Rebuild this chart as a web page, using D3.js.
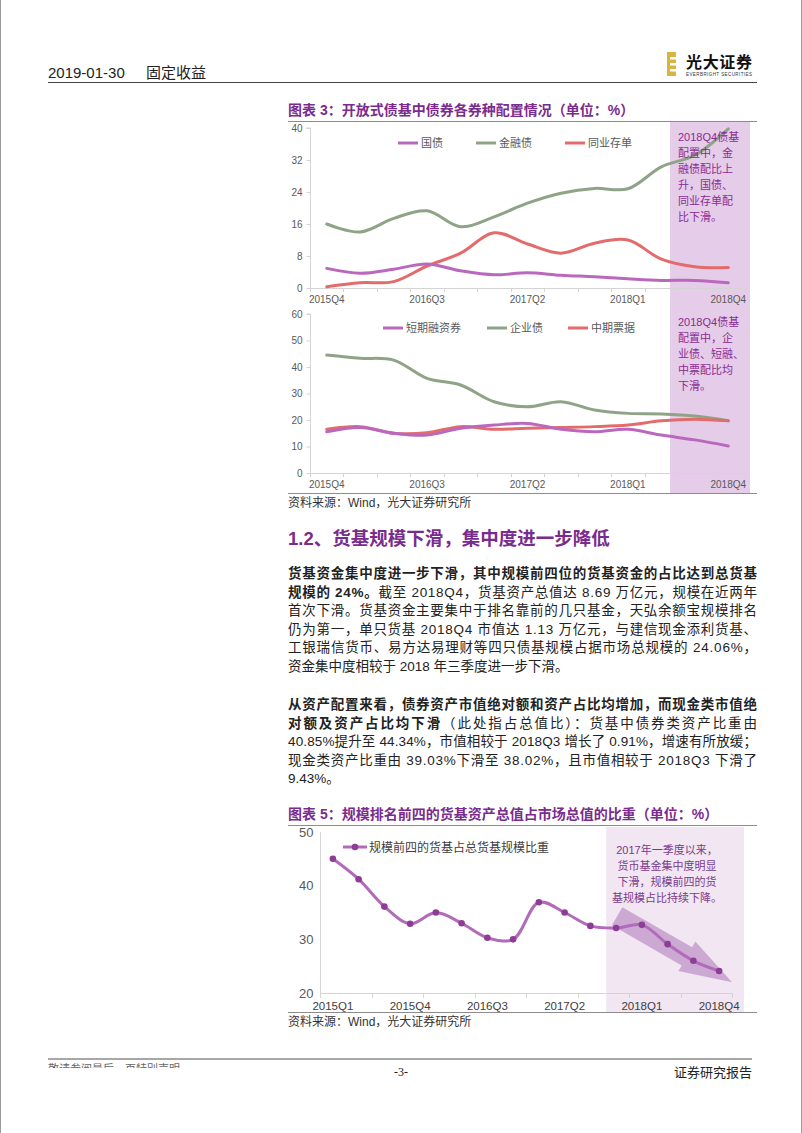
<!DOCTYPE html>
<html><head><meta charset="utf-8">
<script src="https://cdn.jsdelivr.net/npm/d3@7"></script>
<style>
html,body{margin:0;padding:0;background:#fff;}
svg{display:block;font-family:"Liberation Sans","Noto Sans CJK SC",sans-serif;}
</style></head><body>
<svg id="page" width="802" height="1133"></svg>
<script>
// ---------- data ----------
const quartersA = ["2015Q4","2016Q1","2016Q2","2016Q3","2016Q4","2017Q1","2017Q2","2017Q3","2017Q4","2018Q1","2018Q2","2018Q3","2018Q4"];
const labelsA = ["2015Q4","2016Q3","2017Q2","2018Q1","2018Q4"];
const govBond  = [4.9,3.7,4.7,6.0,4.3,3.3,3.8,3.2,2.8,2.3,1.9,1.9,1.3];
const finBond  = [16.0,14.0,17.4,19.3,15.3,17.8,21.2,23.7,24.9,24.8,30.3,33.2,39.8];
const ncdBond  = [0.3,1.3,1.6,5.5,8.7,13.8,11.0,8.7,11.2,12.0,7.2,5.3,5.1];
const cpBond   = [15.6,17.2,15.0,14.3,16.9,18.1,18.7,16.5,15.6,16.5,14.3,12.5,10.2];
const corpBond = [44.5,43.3,42.6,35.7,33.2,26.9,25.0,26.9,23.8,22.5,22.3,21.5,19.7];
const mtnBond  = [16.5,17.5,15.0,15.2,17.5,16.5,16.9,17.2,17.5,18.1,19.7,20.3,19.7];
const ticksTop = [0,8,16,24,32,40];
const ticksMid = [0,10,20,30,40,50,60];

const quartersB = ["2015Q1","2015Q2","2015Q3","2015Q4","2016Q1","2016Q2","2016Q3","2016Q4","2017Q1","2017Q2","2017Q3","2017Q4","2018Q1","2018Q2","2018Q3","2018Q4"];
const labelsB = ["2015Q1","2015Q4","2016Q3","2017Q2","2018Q1","2018Q4"];
const top4Share = [45.0,41.2,36.1,32.9,35.0,33.0,30.3,30.0,36.9,35.0,32.5,32.1,32.7,29.1,26.0,24.1];
const ticksBot = [20,30,40,50];

const legendTop = ["国债","金融债","同业存单"];
const legendMid = ["短期融资券","企业债","中期票据"];
const legendBot = ["规模前四的货基占总货基规模比重"];

const noteTop = ["2018Q4债基","配置中，金","融债配比上","升，国债、","同业存单配","比下滑。"];
const noteMid = ["2018Q4债基","配置中，企","业债、短融、","中票配比均","下滑。"];
const noteBot = ["2017年一季度以来，","货币基金集中度明显","下滑，规模前四的货","基规模占比持续下降。"];

// ---------- style ----------
const COL = {purple:"#BA68BE", green:"#8FA487", red:"#E36B6B", axis:"#D4D4D4", label:"#595959", title:"#7A2C8E", note:"#8A2B93"};
const svg = d3.select("#page");
svg.append("rect").attr("width",802).attr("height",1133).attr("fill","#fff");
svg.append("line").attr("x1",0.5).attr("x2",0.5).attr("y1",0).attr("y2",1133).attr("stroke","#9a9a9a");
svg.append("line").attr("x1",801.5).attr("x2",801.5).attr("y1",0).attr("y2",1133).attr("stroke","#9a9a9a");

// ---------- header ----------
svg.append("text").attr("x",48).attr("y",78).attr("font-size",15).attr("fill","#222").text("2019-01-30");
svg.append("text").attr("x",146).attr("y",78).attr("font-size",15).attr("fill","#222").text("固定收益");
svg.append("line").attr("x1",48).attr("x2",757).attr("y1",82.5).attr("y2",82.5).attr("stroke","#444").attr("stroke-width",1.2);
// logo
const logo = svg.append("g");
logo.append("rect").attr("x",667).attr("y",52).attr("width",9).attr("height",24).attr("fill","#D9B440");
[57,63,69].forEach(yy=>logo.append("rect").attr("x",670).attr("y",yy).attr("width",6).attr("height",2.5).attr("fill","#fff"));
logo.append("text").attr("x",686).attr("y",68).attr("font-size",16).attr("font-weight",700).attr("fill","#111").attr("textLength",66).text("光大证券");
logo.append("text").attr("x",686).attr("y",76).attr("font-size",4.5).attr("fill","#333").attr("textLength",66).text("EVERBRIGHT SECURITIES");

// ---------- helpers ----------
function titleBlock(y, num, text, lineY){
  const t = svg.append("text").attr("x",288).attr("y",y).attr("font-size",14).attr("font-weight",700).attr("fill",COL.title);
  t.append("tspan").text("图表 "+num+"：");
  t.append("tspan").text(text);
  svg.append("line").attr("x1",288).attr("x2",757).attr("y1",lineY).attr("y2",lineY).attr("stroke","#8c8c8c").attr("stroke-width",1);
}
function sourceBlock(lineY){
  svg.append("line").attr("x1",288).attr("x2",757).attr("y1",lineY).attr("y2",lineY).attr("stroke","#8c8c8c").attr("stroke-width",1);
  svg.append("text").attr("x",288).attr("y",lineY+13).attr("font-size",12).attr("fill","#333").text("资料来源：Wind，光大证券研究所");
}
function catAxis(g, x, y0, labels, tickEvery, tickLen, fs, labelDy){
  const r = x.range(), step = x.step();
  g.append("line").attr("x1",r[0]).attr("x2",r[1]).attr("y1",y0+0.5).attr("y2",y0+0.5).attr("stroke",COL.axis);
  const n = x.domain().length;
  for(let i=0;i<=n;i+=tickEvery){
    const xx = Math.round(r[0]+i*step)+0.5;
    g.append("line").attr("x1",xx).attr("x2",xx).attr("y1",y0).attr("y2",y0+tickLen).attr("stroke",COL.axis);
  }
  const ax = d3.axisBottom(x).tickValues(labels).tickSize(0).tickPadding(labelDy);
  const a = g.append("g").attr("transform",`translate(0,${y0})`).call(ax);
  a.select(".domain").remove();
  a.selectAll("text").attr("font-size",fs).attr("fill",COL.label).attr("font-family",'"Liberation Sans",sans-serif');
}
function valAxis(g, y, x0, ticks, tickLen, fs, pad){
  const ax = d3.axisLeft(y).tickValues(ticks).tickSize(tickLen).tickPadding(pad).tickFormat(d3.format("d"));
  const a = g.append("g").attr("transform",`translate(${x0+0.5},0)`).call(ax);
  a.select(".domain").attr("stroke",COL.axis);
  a.selectAll(".tick line").attr("stroke",COL.axis);
  a.selectAll("text").attr("font-size",fs).attr("fill",COL.label).attr("font-family",'"Liberation Sans",sans-serif');
  a.select(".domain").attr("d",`M-${tickLen},${y.range()[1]}H0V${y.range()[0]}`);
}
function legendRow(g, y, items, xs, fs){
  items.forEach((it,i)=>{
    g.append("line").attr("x1",xs[i]).attr("x2",xs[i]+20).attr("y1",y).attr("y2",y).attr("stroke",it.color).attr("stroke-width",3);
    g.append("text").attr("x",xs[i]+23).attr("y",y+4).attr("font-size",fs).attr("fill",COL.label).text(it.name);
  });
}
function noteLines(g, x, y, lines, lh, fs, color, anchor){
  lines.forEach((s,i)=>g.append("text").attr("x",x).attr("y",y+i*lh).attr("font-size",fs).attr("fill",color).attr("text-anchor",anchor||"start").text(s));
}
const curve = d3.curveCatmullRom.alpha(0.5);

// ---------- chart 3 (two panels) ----------
titleBlock(115, "3", "开放式债基中债券各券种配置情况（单位：%）", 121.5);
const xA = d3.scaleBand().domain(quartersA).range([310,745]);
const cx = d => xA(d)+xA.bandwidth()/2;
const gShade = svg.append("g");
gShade.append("rect").attr("x",xA("2018Q2")+xA.bandwidth()*0.76).attr("y",122).attr("width",xA.range()[1]+5-(xA("2018Q2")+xA.bandwidth()*0.76)).attr("height",371).attr("fill","#E5CCE8");

const yTop = d3.scaleLinear().domain([0,40]).range([288,128]);
const gTop = svg.append("g");
valAxis(gTop, yTop, 310, ticksTop, 4, 10, 4);
catAxis(gTop, xA, 288, labelsA, 1, 4, 10, 8);
const seriesTop = [{name:legendTop[0],color:COL.purple,v:govBond},{name:legendTop[1],color:COL.green,v:finBond},{name:legendTop[2],color:COL.red,v:ncdBond}];
[seriesTop[2],seriesTop[1],seriesTop[0]].forEach(s=>{
  gTop.append("path").attr("d",d3.line().x((d,i)=>cx(quartersA[i])).y(d=>yTop(d)).curve(curve)(s.v))
    .attr("fill","none").attr("stroke",s.color).attr("stroke-width",3).attr("stroke-linecap","round");
});
legendRow(gTop, 143, seriesTop, [398,476,565], 11);
noteLines(gTop, 678, 141, noteTop, 16, 11, COL.note);

const yMid = d3.scaleLinear().domain([0,60]).range([473,314]);
const gMid = svg.append("g");
valAxis(gMid, yMid, 310, ticksMid, 4, 10, 4);
catAxis(gMid, xA, 473, labelsA, 1, 4, 10, 8);
const seriesMid = [{name:legendMid[0],color:COL.purple,v:cpBond},{name:legendMid[1],color:COL.green,v:corpBond},{name:legendMid[2],color:COL.red,v:mtnBond}];
[seriesMid[1],seriesMid[2],seriesMid[0]].forEach(s=>{
  gMid.append("path").attr("d",d3.line().x((d,i)=>cx(quartersA[i])).y(d=>yMid(d)).curve(curve)(s.v))
    .attr("fill","none").attr("stroke",s.color).attr("stroke-width",3).attr("stroke-linecap","round");
});
legendRow(gMid, 328, seriesMid, [383,487,568], 11);
noteLines(gMid, 678, 326, noteMid, 16, 11, COL.note);
sourceBlock(493.5);

// ---------- section text ----------
svg.append("text").attr("x",288).attr("y",545).attr("font-size",18.5).attr("font-weight",700).attr("fill",COL.title).text("1.2、货基规模下滑，集中度进一步降低");

const W = 469;
function para(y, lines){
  lines.forEach((ln,i)=>{
    const t = svg.append("text").attr("x",288).attr("y",y+i*18.5).attr("font-size",13.5).attr("fill","#222");
    if(ln.justify) t.attr("textLength",W).attr("lengthAdjust","spacing");
    ln.parts.forEach(p=>t.append("tspan").attr("font-weight",p.b?700:400).text(p.t));
  });
}
para(578, [
  {justify:true, parts:[{b:1,t:"货基资金集中度进一步下滑，其中规模前四位的货基资金的占比达到总货基"}]},
  {justify:true, parts:[{b:1,t:"规模的 24%。"},{t:"截至 2018Q4，货基资产总值达 8.69 万亿元，规模在近两年"}]},
  {justify:true, parts:[{t:"首次下滑。货基资金主要集中于排名靠前的几只基金，天弘余额宝规模排名"}]},
  {justify:true, parts:[{t:"仍为第一，单只货基 2018Q4 市值达 1.13 万亿元，与建信现金添利货基、"}]},
  {justify:true, parts:[{t:"工银瑞信货币、易方达易理财等四只债基规模占据市场总规模的 24.06%，"}]},
  {justify:false, parts:[{t:"资金集中度相较于 2018 年三季度进一步下滑。"}]}
]);
para(709, [
  {justify:true, parts:[{b:1,t:"从资产配置来看，债券资产市值绝对额和资产占比均增加，而现金类市值绝"}]},
  {justify:true, parts:[{b:1,t:"对额及资产占比均下滑"},{t:"（此处指占总值比）：货基中债券类资产比重由"}]},
  {justify:true, parts:[{t:"40.85%提升至 44.34%，市值相较于 2018Q3 增长了 0.91%，增速有所放缓；"}]},
  {justify:true, parts:[{t:"现金类资产比重由 39.03%下滑至 38.02%，且市值相较于 2018Q3 下滑了"}]},
  {justify:false, parts:[{t:"9.43%。"}]}
]);

// ---------- chart 5 ----------
titleBlock(819, "5", "规模排名前四的货基资产总值占市场总值的比重（单位：%）", 825.5);
const xB = d3.scaleBand().domain(quartersB).range([320,732]);
const cxB = d => xB(d)+xB.bandwidth()/2;
const yB = d3.scaleLinear().domain([20,50]).range([993,832]);
const g5 = svg.append("g");
const shadeX = xB("2017Q4")+3;
g5.append("rect").attr("x",shadeX).attr("y",827).attr("width",xB.range()[1]+12-shadeX).attr("height",185).attr("fill","#F1E6F2");
// arrow (annotation)
(function(){
  const sx = cxB("2017Q4")+1, sy = yB(34.3), ex = xB.range()[1], ey = yB(22.0);
  const dx = ex-sx, dy = ey-sy, L = Math.hypot(dx,dy), ux = dx/L, uy = dy/L, px = -uy, py = ux;
  const hw = 10.5, hh = 17, hl = 52;
  const bx = ex-ux*hl, by = ey-uy*hl;
  const pts = [[sx+px*hw,sy+py*hw],[bx+px*hw,by+py*hw],[bx+px*hh,by+py*hh],[ex,ey],[bx-px*hh,by-py*hh],[bx-px*hw,by-py*hw],[sx-px*hw,sy-py*hw]];
  g5.append("path").attr("d","M"+pts.map(p=>p.join(",")).join("L")+"Z").attr("fill","#C69ECD").attr("opacity",0.85);
})();
valAxis(g5, yB, 320, ticksBot, 0, 13, 7);
catAxis(g5, xB, 993, labelsB, 2, 5, 11.5, 9);
g5.selectAll("text").filter(function(){return this.textContent.match(/^\d{4}Q\d$/);}).attr("fill","#404040");
g5.append("path").attr("d",d3.line().x((d,i)=>cxB(quartersB[i])).y(d=>yB(d)).curve(curve)(top4Share))
  .attr("fill","none").attr("stroke","#B26BB8").attr("stroke-width",3);
g5.selectAll("circle.pt").data(top4Share).enter().append("circle").attr("class","pt")
  .attr("cx",(d,i)=>cxB(quartersB[i])).attr("cy",d=>yB(d)).attr("r",3.3).attr("fill","#8E3D97");
// legend
g5.append("line").attr("x1",343).attr("x2",367).attr("y1",847).attr("y2",847).attr("stroke","#B26BB8").attr("stroke-width",3);
g5.append("circle").attr("cx",355).attr("cy",847).attr("r",3.3).attr("fill","#8E3D97");
g5.append("text").attr("x",369).attr("y",851.5).attr("font-size",12).attr("fill","#404040").text(legendBot[0]);
noteLines(g5, 667, 854, noteBot, 16, 11, "#7B3A8A", "middle");
sourceBlock(1012.5);

// ---------- footer ----------
svg.append("line").attr("x1",48).attr("x2",752).attr("y1",1059).attr("y2",1059).attr("stroke","#8a8a8a").attr("stroke-width",1.5);
svg.append("clipPath").attr("id","fclip").append("rect").attr("x",40).attr("y",1062).attr("width",200).attr("height",6);
svg.append("text").attr("x",48).attr("y",1073).attr("font-size",11).attr("fill","#666").attr("clip-path","url(#fclip)").text("敬请参阅最后一页特别声明");
svg.append("text").attr("x",401).attr("y",1076).attr("font-size",12).attr("text-anchor","middle").attr("fill","#222").attr("font-family","'Liberation Serif',serif").text("-3-");
svg.append("text").attr("x",752).attr("y",1077).attr("font-size",13).attr("text-anchor","end").attr("fill","#222").text("证券研究报告");
</script>
</body></html>
